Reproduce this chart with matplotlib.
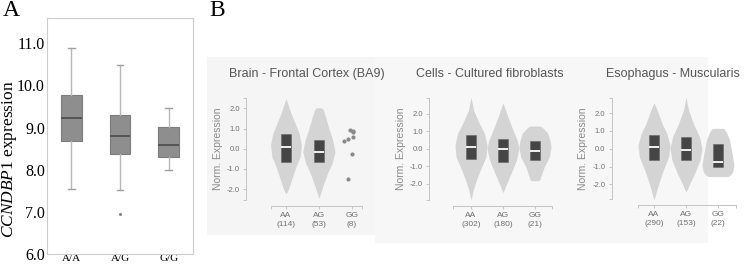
import matplotlib
matplotlib.use('Agg')
import matplotlib.pyplot as plt
from matplotlib.patches import Rectangle

plt.rcParams['mathtext.fontset'] = 'custom'
plt.rcParams['mathtext.rm'] = 'Liberation Serif'
plt.rcParams['mathtext.it'] = 'Liberation Serif:italic'

# ---- Panel A: CCNDBP1 expression by genotype (box plot stats) ----
genotypes_a = ['A/A', 'A/G', 'G/G']
whislo_a = [7.55, 7.53, 8.00]
q1_a = [8.67, 8.38, 8.29]
med_a = [9.23, 8.81, 8.58]
q3_a = [9.77, 9.29, 9.02]
whishi_a = [10.90, 10.48, 9.47]
fliers_a = [[], [6.95], []]

# ---- Panel B: GTEx violin plots ----
geno_b = ['AA', 'AG', 'GG']
titles_b = ['Brain - Frontal Cortex (BA9)', 'Cells - Cultured fibroblasts', 'Esophagus - Muscularis']
counts_b = [[114, 53, 8], [302, 180, 21], [290, 153, 22]]

# violin outlines: (norm. expression, half width)
violin_y = [
    [[2.49, 2.2, 1.9, 1.55, 1.25, 0.76, 0.18, -0.4, -0.9, -1.39, -1.88, -2.1, -2.24],
     [2.03, 2.0, 1.9, 1.58, 0.92, 0.43, -0.15, -0.73, -1.22, -1.72, -2.2, -2.46],
     None],
    [[2.93, 2.6, 2.2, 1.45, 0.88, 0.2, -0.46, -1.22, -1.79, -2.36, -2.7, -2.93],
     [2.63, 2.3, 1.83, 1.07, 0.5, 0.02, -0.65, -1.41, -1.98, -2.3, -2.51],
     [1.3, 1.28, 1.16, 0.88, 0.46, 0.11, -0.46, -1.03, -1.5, -1.78, -1.83]],
    [[2.58, 2.17, 1.42, 0.86, 0.2, -0.45, -1.2, -1.95, -2.5, -2.88],
     [2.92, 2.6, 2.17, 1.42, 0.67, 0.02, -0.64, -1.39, -1.95, -2.25, -2.42],
     [1.14, 1.1, 0.9, 0.49, -0.26, -0.92, -1.29, -1.45, -1.55, -1.57]],
]
violin_w = [
    [[0.0, 0.06, 0.12, 0.2, 0.28, 0.40, 0.47, 0.43, 0.30, 0.20, 0.10, 0.05, 0.0],
     [0.05, 0.1, 0.14, 0.2, 0.32, 0.42, 0.49, 0.40, 0.26, 0.15, 0.05, 0.0],
     None],
    [[0.0, 0.04, 0.08, 0.26, 0.42, 0.50, 0.47, 0.29, 0.17, 0.07, 0.03, 0.0],
     [0.0, 0.06, 0.15, 0.31, 0.44, 0.50, 0.42, 0.25, 0.12, 0.05, 0.0],
     [0.12, 0.18, 0.26, 0.40, 0.47, 0.50, 0.45, 0.29, 0.2, 0.15, 0.1]],
    [[0.0, 0.1, 0.25, 0.40, 0.50, 0.46, 0.29, 0.15, 0.06, 0.0],
     [0.0, 0.03, 0.08, 0.23, 0.42, 0.50, 0.44, 0.27, 0.12, 0.05, 0.0],
     [0.17, 0.2, 0.27, 0.36, 0.44, 0.50, 0.46, 0.40, 0.32, 0.25]],
]
box_q1 = [[-0.68, -0.64, None], [-0.61, -0.74, -0.65], [-0.66, -0.62, -1.05]]
box_med = [[0.08, -0.18, None], [0.11, -0.04, -0.15], [0.09, -0.07, -0.73]]
box_q3 = [[0.71, 0.43, None], [0.78, 0.53, 0.46], [0.77, 0.64, 0.24]]

# brain GG has only 8 samples -> drawn as points
gg_pts_x = [-0.23, -0.11, -0.04, 0.03, 0.03, 0.01, -0.13, 0.05]
gg_pts_y = [0.40, 0.48, 0.94, 0.86, 0.60, -0.28, -1.50, 0.82]

W, H = 753, 265
fig = plt.figure(figsize=(W / 100, H / 100), dpi=100)


def add_ax(left, top, right, bottom):
    return fig.add_axes([left / W, 1 - bottom / H, (right - left) / W, (bottom - top) / H])


# light panel backgrounds behind the GTEx plots
fig.patches.append(Rectangle((207 / W, 1 - 235 / H), 168 / W, 178 / H,
                             transform=fig.transFigure, facecolor='#f5f5f5',
                             edgecolor='none', zorder=-5))
fig.patches.append(Rectangle((375 / W, 1 - 243 / H), 333 / W, 186 / H,
                             transform=fig.transFigure, facecolor='#f7f7f7',
                             edgecolor='none', zorder=-5))

# ---------------- Panel A ----------------
axA = add_ax(47, 18, 193, 254)
stats = []
for i in range(3):
    stats.append(dict(med=med_a[i], q1=q1_a[i], q3=q3_a[i], whislo=whislo_a[i],
                      whishi=whishi_a[i], fliers=fliers_a[i], label=genotypes_a[i]))
axA.bxp(stats, positions=[1, 2, 3], widths=0.43, capwidths=0.14, patch_artist=True,
        boxprops=dict(facecolor='#8e8e8e', edgecolor='#7c7c7c', linewidth=0.8),
        medianprops=dict(color='#4f4f4f', linewidth=1.3),
        whiskerprops=dict(color='#b8b8b8', linewidth=1.0),
        capprops=dict(color='#a0a0a0', linewidth=1.0),
        flierprops=dict(marker='.', markersize=2.5, markerfacecolor='#888888',
                        markeredgecolor='#888888'))
axA.set_xlim(0.5, 3.5)
axA.set_ylim(6.0, 11.6)
axA.set_yticks([6, 7, 8, 9, 10, 11])
axA.set_yticklabels(['6.0', '7.0', '8.0', '9.0', '10.0', '11.0'],
                    fontfamily='Liberation Serif', fontsize=11.5)
axA.set_xticks([1, 2, 3])
axA.set_xticklabels(genotypes_a, fontfamily='Liberation Serif', fontsize=8)
axA.tick_params(axis='y', length=0, pad=1.5)
axA.tick_params(axis='x', length=0, pad=0)
for s in axA.spines.values():
    s.set_color('#cccccc')
    s.set_linewidth(0.8)
axA.set_ylabel(r'$\mathit{CCNDBP1}$ expression', fontfamily='Liberation Serif', fontsize=12.5)
axA.yaxis.set_label_coords(-0.19, 0.40)

fig.text(3 / W, 1 - 10 / H, 'A', fontfamily='Liberation Serif', fontsize=17, va='center')
fig.text(209 / W, 1 - 10 / H, 'B', fontfamily='Liberation Serif', fontsize=17, va='center')

# ---------------- Panel B ----------------
# pixel layout of each sub panel
layout = [
    dict(yx=246, top=98, bot=200, y0=148.7, yu=20.2, c0=286, cu=32.9, xl=271, xr=362, right=372, title_x=307),
    dict(yx=429, top=98, bot=200, y0=148.7, yu=17.5, c0=471, cu=32.0, xl=453, xr=552, right=560, title_x=490),
    dict(yx=611.7, top=97.7, bot=199.3, y0=148.7, yu=17.8, c0=654, cu=32.0, xl=638, xr=736, right=745, title_x=673),
]
txt = '#707070'
for p, L in enumerate(layout):
    ax = add_ax(L['yx'], L['top'], L['right'], L['bot'])
    ax.patch.set_alpha(0)
    ylo = (L['y0'] - L['bot']) / L['yu']
    yhi = (L['y0'] - L['top']) / L['yu']
    xlo = (L['yx'] - L['c0']) / L['cu']
    xhi = (L['right'] - L['c0']) / L['cu']
    ax.set_xlim(xlo, xhi)
    ax.set_ylim(ylo, yhi)

    for g in range(3):
        if violin_y[p][g] is None:
            continue
        vy = violin_y[p][g]
        vw = violin_w[p][g]
        ax.fill_betweenx(vy, [g - w for w in vw], [g + w for w in vw],
                         color='#d4d4d4', linewidth=0, zorder=1)
        ax.bar(g, box_q3[p][g] - box_q1[p][g], bottom=box_q1[p][g], width=0.32,
               color='#454545', edgecolor='#666666', linewidth=0.4, zorder=2)
        ax.hlines(box_med[p][g], g - 0.16, g + 0.16, color='white', linewidth=1.3, zorder=3)
    if p == 0:
        ax.scatter([2 + dx for dx in gg_pts_x], gg_pts_y, s=9, color='#8a8a8a',
                   linewidths=0, zorder=2)

    for side in ['top', 'right']:
        ax.spines[side].set_visible(False)
    ax.spines['left'].set_color('#c4c4c4')
    ax.spines['bottom'].set_color('#c4c4c4')
    ax.spines['left'].set_linewidth(0.7)
    ax.spines['bottom'].set_linewidth(0.7)
    ax.spines['bottom'].set_position(('outward', 4))
    bl = (L['xl'] - L['c0']) / L['cu']
    br = (L['xr'] - L['c0']) / L['cu']
    ax.spines['bottom'].set_bounds(bl, br)

    ax.set_yticks([ylo, -2, -1, 0, 1, 2, yhi])
    ax.set_yticklabels(['', '-2.0', '-1.0', '0.0', '1.0', '2.0', ''],
                       fontfamily='Liberation Sans', fontsize=5.5, color=txt)
    ax.set_xticks([bl, 0, 1, 2, br])
    ax.set_xticklabels([''] + ['%s\n(%d)' % (geno_b[g], counts_b[p][g]) for g in range(3)] + [''],
                       fontfamily='Liberation Sans', fontsize=6, color=txt, linespacing=1.45)
    ax.tick_params(length=2.5, width=0.7, color='#c4c4c4', pad=2)
    ax.set_ylabel('Norm. Expression', fontfamily='Liberation Sans', fontsize=7.5,
                  color='#8a8a8a', labelpad=3)
    fig.text(L['title_x'] / W, 1 - 74 / H, titles_b[p], fontfamily='Liberation Sans',
             fontsize=9, color='#555555', ha='center', va='center')

fig.savefig('out.png', dpi=100)
